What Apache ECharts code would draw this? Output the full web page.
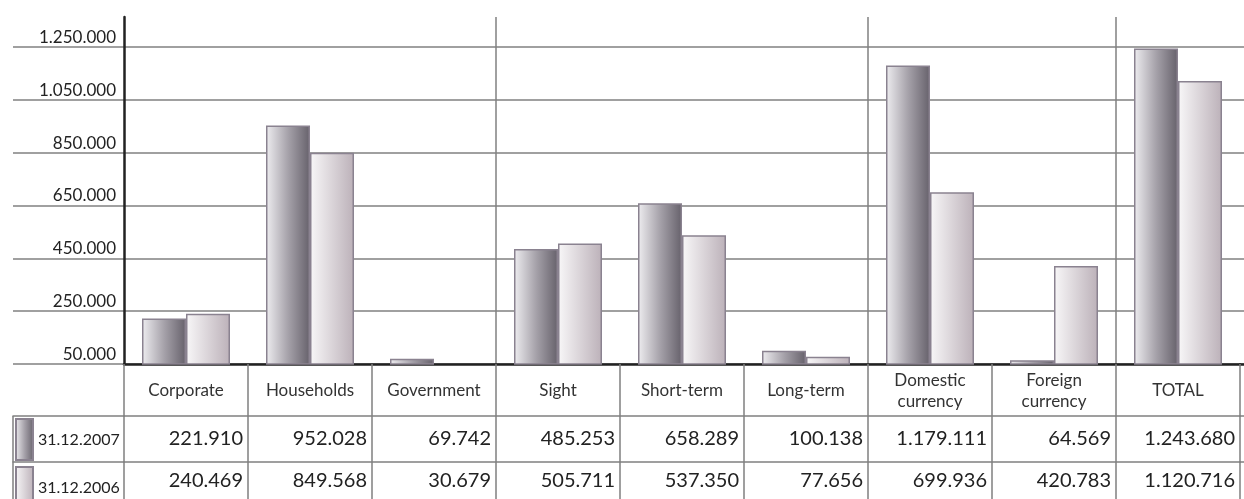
<!DOCTYPE html>
<html>
<head>
<meta charset="utf-8">
<script src="https://cdn.jsdelivr.net/npm/echarts@6/dist/echarts.min.js"></script>
<style>
  html, body { margin: 0; padding: 0; background: #fff; }
  #chart { width: 1244px; height: 499px; }
</style>
</head>
<body>
<div id="chart"></div>
<script>
const categories = ['Corporate', 'Households', 'Government', 'Sight', 'Short-term', 'Long-term',
    'Domestic\ncurrency', 'Foreign\ncurrency', 'TOTAL'];
const seriesNames = ['31.12.2007', '31.12.2006'];
const values2007 = [221910, 952028, 69742, 485253, 658289, 100138, 1179111, 64569, 1243680];
const values2006 = [240469, 849568, 30679, 505711, 537350, 77656, 699936, 420783, 1120716];
// y ticks: 50.000 .. 1.250.000 step 200.000
const yMin = 50000;
const yMax = 1363000;
const yStep = 200000;
// categories where a group separator starts
const groupStarts = [3, 6, 8];

(function () {
    var font = 'Lato, "Open Sans", sans-serif';
    var gridColor = '#808080';
    var darkLine = '#222';
    var rowOffsets = [52, 98];

    // 1.250.000 style
    function fmt(n) {
        return String(n).replace(/\B(?=(\d{3})+(?!\d))/g, '.');
    }

    var myChart = echarts.init(document.getElementById('chart'));

    var gridLine = { lineStyle: { color: gridColor, width: 1.5 } };

    // same scale on every grid so the gridlines line up
    function valueAxis(gridIndex, main) {
        return {
            gridIndex: gridIndex,
            type: 'value',
            min: yMin,
            max: yMax,
            interval: yStep,
            axisLine: { show: main, lineStyle: { color: darkLine, width: 2.5 } },
            axisTick: { show: false },
            axisLabel: {
                show: main,
                showMaxLabel: false,
                formatter: fmt,
                verticalAlign: 'bottom',
                margin: 8,
                padding: [0, 0, 1, 0],
                fontFamily: font,
                fontSize: 17,
                color: '#222'
            },
            splitLine: Object.assign({ show: true, showMaxLine: false }, gridLine)
        };
    }

    // table row lines (and row values on the main grid)
    function rowAxis(gridIndex, offset, labels, margin, tickLen) {
        return {
            gridIndex: gridIndex,
            type: 'category',
            position: 'bottom',
            offset: offset,
            data: labels,
            axisLine: { show: true, onZero: false, lineStyle: gridLine.lineStyle },
            axisTick: { show: !!tickLen, length: tickLen || 0, lineStyle: gridLine.lineStyle },
            axisLabel: {
                show: gridIndex === 0,
                interval: 0,
                margin: margin,
                verticalAlign: 'middle',
                formatter: function (v) { return '{v|' + v + '}'; },
                rich: {
                    v: { width: 114, align: 'right', fontFamily: font, fontSize: 20, color: '#222' }
                }
            },
            splitLine: { show: false }
        };
    }

    var grids = [
        { left: 124, right: 4, top: 17, bottom: 135 },   // plot
        { left: 13, width: 111, top: 17, bottom: 135 },  // label column
        { left: 1240, width: 4, top: 17, bottom: 135 }   // right stub
    ];

    var xAxes = [
        {
            gridIndex: 0,
            type: 'category',
            data: categories,
            axisLine: { onZero: false, lineStyle: { color: darkLine, width: 2.5 } },
            axisTick: { show: true, interval: 0, length: 135, lineStyle: gridLine.lineStyle },
            axisLabel: {
                interval: 0,
                margin: 27,
                verticalAlign: 'middle',
                align: 'center',
                lineHeight: 21,
                fontFamily: font,
                fontSize: 17,
                color: '#333'
            },
            splitLine: {
                show: true,
                showMaxLine: false,
                interval: function (i) { return groupStarts.indexOf(i) >= 0; },
                lineStyle: gridLine.lineStyle
            }
        },
        rowAxis(0, rowOffsets[0], values2007.map(fmt), 23),
        rowAxis(0, rowOffsets[1], values2006.map(fmt), 19),
        // label column
        { gridIndex: 1, type: 'category', data: [''], axisLine: { show: false, onZero: false },
          axisTick: { show: false }, axisLabel: { show: false } },
        rowAxis(1, rowOffsets[0], [''], 0, 83),
        rowAxis(1, rowOffsets[1], [''], 0),
        // right stub
        { gridIndex: 2, type: 'category', data: [''],
          axisLine: { show: true, onZero: false, lineStyle: { color: darkLine, width: 2.5 } },
          axisTick: { show: false }, axisLabel: { show: false } },
        rowAxis(2, rowOffsets[0], [''], 0),
        rowAxis(2, rowOffsets[1], [''], 0)
    ];

    var option = {
        animation: false,
        backgroundColor: '#fff',
        grid: grids,
        legend: {
            data: seriesNames,
            orient: 'vertical',
            left: 15,
            top: 418,
            height: 100,
            padding: 0,
            itemWidth: 17,
            itemHeight: 41,
            itemGap: 5,
            icon: 'rect',
            selectedMode: false,
            textStyle: { fontFamily: font, fontSize: 16, color: '#222' }
        },
        xAxis: xAxes,
        yAxis: [valueAxis(0, true), valueAxis(1, false), valueAxis(2, false)],
        series: [
            {
                name: seriesNames[0],
                type: 'bar',
                data: values2007,
                barWidth: 44,
                barGap: '0%',
                itemStyle: {
                    color: {
                        type: 'linear', x: 0, y: 0, x2: 1, y2: 0,
                        colorStops: [
                            { offset: 0, color: '#eeedf0' },
                            { offset: 0.5, color: '#a6a2aa' },
                            { offset: 1, color: '#66616b' }
                        ]
                    },
                    borderColor: '#8a8290',
                    borderWidth: 1.5
                }
            },
            {
                name: seriesNames[1],
                type: 'bar',
                data: values2006,
                barWidth: 44,
                itemStyle: {
                    color: {
                        type: 'linear', x: 0, y: 0, x2: 1, y2: 0,
                        colorStops: [
                            { offset: 0, color: '#f8f7f8' },
                            { offset: 1, color: '#bcb1b9' }
                        ]
                    },
                    borderColor: '#8a8290',
                    borderWidth: 1.5
                }
            }
        ]
    };

    myChart.setOption(option);
    window.addEventListener('resize', function () {
        myChart.resize();
    });
})();
</script>
</body>
</html>
